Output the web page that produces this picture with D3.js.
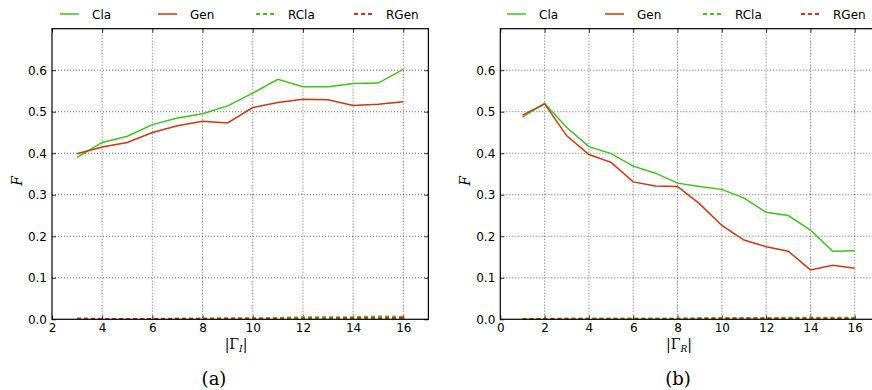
<!DOCTYPE html>
<html>
<head>
<meta charset="utf-8">
<script src="https://cdn.jsdelivr.net/npm/d3@7"></script>
<style>
  body { margin: 0; background: #fff; }
</style>
</head>
<body>
<div id="chart"></div>
<script>
// panel (a): |Γ_I| = 3..16
var xA = [3, 4, 5, 6, 7, 8, 9, 10, 11, 12, 13, 14, 15, 16];
var claA  = [0.390, 0.426, 0.441, 0.469, 0.485, 0.495, 0.514, 0.545, 0.578, 0.560, 0.560, 0.568, 0.569, 0.602];
var genA  = [0.399, 0.415, 0.426, 0.450, 0.466, 0.477, 0.473, 0.510, 0.522, 0.530, 0.529, 0.515, 0.518, 0.524];
var rclaA = [0.001, 0.001, 0.001, 0.001, 0.002, 0.002, 0.002, 0.002, 0.003, 0.005, 0.005, 0.005, 0.007, 0.006];
var rgenA = [0.002, 0.001, 0.001, 0.001, 0.001, 0.001, 0.002, 0.002, 0.002, 0.002, 0.002, 0.003, 0.003, 0.003];

// panel (b): |Γ_R| = 1..16
var xB = [1, 2, 3, 4, 5, 6, 7, 8, 9, 10, 11, 12, 13, 14, 15, 16];
var claB  = [0.487, 0.520, 0.462, 0.416, 0.399, 0.369, 0.352, 0.328, 0.320, 0.313, 0.292, 0.258, 0.250, 0.215, 0.164, 0.165];
var genB  = [0.492, 0.519, 0.442, 0.397, 0.378, 0.331, 0.321, 0.320, 0.278, 0.226, 0.191, 0.175, 0.164, 0.119, 0.130, 0.123];
var rclaB = [0.001, 0.001, 0.002, 0.002, 0.002, 0.002, 0.002, 0.002, 0.003, 0.003, 0.003, 0.003, 0.004, 0.004, 0.004, 0.004];
var rgenB = [0.000, 0.001, 0.001, 0.001, 0.001, 0.001, 0.001, 0.001, 0.001, 0.002, 0.002, 0.002, 0.002, 0.002, 0.002, 0.002];

var yTicks = [0.0, 0.1, 0.2, 0.3, 0.4, 0.5, 0.6];
var legendNames = ["Cla", "Gen", "RCla", "RGen"];

var green = "#3ec11c";
var red = "#c9380f";
var sans = "'DejaVu Sans', sans-serif";
var serif = "'DejaVu Serif', serif";

var svg = d3.select("#chart").append("svg")
    .attr("width", 872)
    .attr("height", 390);

function drawPanel(p) {
    var x = d3.scaleLinear().domain(p.xDomain).range([p.left, p.right]);
    var y = d3.scaleLinear().domain([0, 0.7]).range([319.3, 28.7]);

    var g = svg.append("g");
    var clipId = "clip" + p.id;
    g.append("clipPath").attr("id", clipId)
        .append("rect")
        .attr("x", p.left).attr("y", 28.7)
        .attr("width", p.right - p.left).attr("height", 319.3 - 28.7);

    // grid
    g.selectAll(".vgrid").data(p.xTicks.filter(t => t > p.xDomain[0] && t < p.xDomain[1]))
        .enter().append("line")
        .attr("x1", d => x(d)).attr("x2", d => x(d))
        .attr("y1", 28.7).attr("y2", 319.3)
        .attr("stroke", "#000").attr("stroke-width", 0.6)
        .attr("stroke-dasharray", "1,2");
    g.selectAll(".hgrid").data(yTicks.filter(t => t > 0))
        .enter().append("line")
        .attr("x1", p.left).attr("x2", p.right)
        .attr("y1", d => y(d)).attr("y2", d => y(d))
        .attr("stroke", "#000").attr("stroke-width", 0.6)
        .attr("stroke-dasharray", "1,2");

    // axes with inward ticks
    g.append("g").attr("transform", "translate(0,319.3)")
        .call(d3.axisBottom(x).tickValues(p.xTicks).tickSize(-4).tickPadding(4).tickFormat(d3.format("d")));
    g.append("g").attr("transform", "translate(0,28.7)")
        .call(d3.axisTop(x).tickValues(p.xTicks).tickSize(-4).tickFormat(""));
    g.append("g").attr("transform", "translate(" + p.left + ",0)")
        .call(d3.axisLeft(y).tickValues(yTicks).tickSize(-4).tickPadding(5).tickFormat(d3.format(".1f")));
    g.append("g").attr("transform", "translate(" + p.right + ",0)")
        .call(d3.axisRight(y).tickValues(yTicks).tickSize(-4).tickFormat(""));
    g.selectAll(".domain").remove();
    g.selectAll(".tick line").attr("stroke", "#000").attr("stroke-width", 0.8);
    g.selectAll(".tick text").attr("font-size", 12).attr("fill", "#000")
        .attr("font-family", sans);

    var line = d3.line().x(d => x(d[0])).y(d => y(d[1]));
    var series = [
        { vals: p.cla, color: green, dash: null },
        { vals: p.gen, color: red, dash: null },
        { vals: p.rcla, color: green, dash: "4,3" },
        { vals: p.rgen, color: red, dash: "4,3" }
    ];
    var lines = g.append("g").attr("clip-path", "url(#" + clipId + ")");
    series.forEach(function (s) {
        lines.append("path")
            .datum(p.xs.map((v, i) => [v, s.vals[i]]))
            .attr("d", line)
            .attr("fill", "none")
            .attr("stroke", s.color)
            .attr("stroke-width", s.dash ? 2 : 1.5)
            .attr("stroke-dasharray", s.dash);
    });

    // frame
    g.append("rect")
        .attr("x", p.left).attr("y", 28.7)
        .attr("width", p.right - p.left).attr("height", 319.3 - 28.7)
        .attr("fill", "none").attr("stroke", "#000").attr("stroke-width", 1.2);

    // legend
    var leg = g.selectAll(".leg").data(legendNames).enter().append("g")
        .attr("transform", (d, i) => "translate(" + (p.legX + i * 98) + ",14)");
    leg.append("line")
        .attr("x1", 0).attr("x2", 19).attr("y1", 0).attr("y2", 0)
        .attr("stroke", (d, i) => i % 2 === 0 ? green : red)
        .attr("stroke-width", (d, i) => i < 2 ? 1.5 : 2)
        .attr("stroke-dasharray", (d, i) => i < 2 ? null : "4,3");
    leg.append("text")
        .attr("x", 32).attr("y", 4.5)
        .attr("font-family", sans)
        .attr("font-size", 12)
        .text(d => d);

    // labels
    svg.append("text")
        .attr("transform", "translate(" + (p.left - 30) + ",181) rotate(-90)")
        .attr("text-anchor", "middle")
        .attr("font-family", serif)
        .attr("font-style", "italic")
        .attr("font-size", 14)
        .text("F");

    var xl = svg.append("text")
        .attr("x", p.xLabelX).attr("y", 349)
        .attr("text-anchor", "middle")
        .attr("font-family", serif)
        .attr("font-size", 14);
    xl.append("tspan").text("|Γ");
    xl.append("tspan").attr("font-style", "italic").attr("font-size", 9).attr("dy", 3).text(p.sub);
    xl.append("tspan").attr("dy", -3).text("|");

    svg.append("text")
        .attr("x", p.captionX).attr("y", 385)
        .attr("text-anchor", "middle")
        .attr("font-family", serif)
        .attr("font-size", 18)
        .text(p.caption);
}

drawPanel({
    id: "a", xs: xA, cla: claA, gen: genA, rcla: rclaA, rgen: rgenA,
    xDomain: [2, 17], xTicks: [2, 4, 6, 8, 10, 12, 14, 16],
    left: 52, right: 428.4, legX: 60, xLabelX: 236, captionX: 214, sub: "I", caption: "(a)"
});
drawPanel({
    id: "b", xs: xB, cla: claB, gen: genB, rcla: rclaB, rgen: rgenB,
    xDomain: [0, 17], xTicks: [0, 2, 4, 6, 8, 10, 12, 14, 16],
    left: 500.3, right: 876.9, legX: 507, xLabelX: 679, captionX: 678, sub: "R", caption: "(b)"
});
</script>
</body>
</html>
